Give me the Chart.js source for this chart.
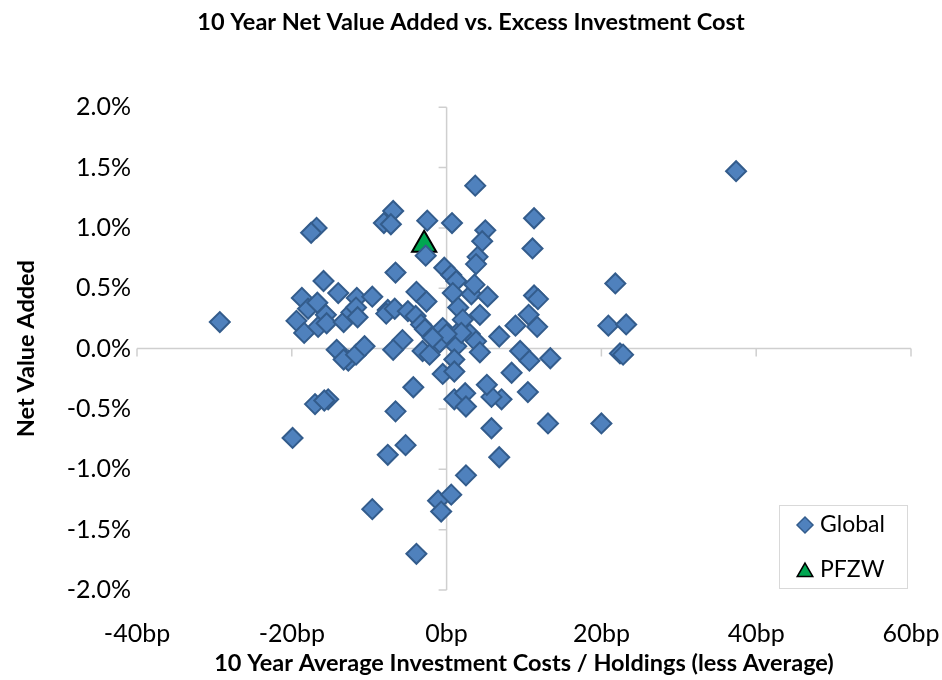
<!DOCTYPE html>
<html>
<head>
<meta charset="utf-8">
<script src="https://cdn.jsdelivr.net/npm/chart.js@4.4.1/dist/chart.umd.min.js"></script>
<style>
	body { margin: 0; background: #fff; }
	#chart { display: block; }
</style>
</head>
<body>
<canvas id="chart" width="942" height="680"></canvas>
<script>
// excess investment cost (bp) and net value added (%) per fund
var global_cost = [37.4, -29.3, -19.9, 21.8, 20.9, 23.2, 22.4, 22.8, 20.0, 13.1,
	13.4, 11.3, 11.1, 11.3, 11.8, 10.6, 8.9, 11.7, 6.8, 9.5,
	10.7, 8.4, 10.5, 7.1, 6.8, 5.8, 5.8, 5.2, 3.7, 5.0,
	4.6, 4.0, 3.8, 0.7, -2.5, -2.7, -6.9, -8.1, -7.2, -16.8,
	-17.5, -0.3, 0.6, 1.25, -6.6, -15.9, -14.0, -11.6, -9.6, -18.7,
	-17.9, -16.7, -19.4, -18.4, -16.6, -15.6, -15.5, -13.3, -12.3, -11.7,
	-11.5, -7.6, -7.8, -6.7, -3.9, -2.6, -5.0, -4.0, -3.3, -2.8,
	-1.8, -0.5, 0.4, 1.9, 3.0, 3.8, 4.3, 1.25, -3.1, -2.2,
	-0.9, -5.7, 0.8, 3.2, 3.6, 5.3, 1.5, 4.3, 2.1, -14.2,
	-12.7, -13.3, -11.7, -10.6, -6.9, 1.0, -0.5, 1.0, -4.3, 1.0,
	2.4, 2.5, -17.0, -15.3, -15.8, -6.6, -5.3, -7.6, -9.6, -1.1,
	-0.7, 0.6, -3.9, 2.5, 1.9, 0.0, -1.8];
var global_value = [1.47, 0.22, -0.74, 0.54, 0.19, 0.20, -0.04, -0.05, -0.62, -0.62,
	-0.08, 1.08, 0.83, 0.44, 0.41, 0.28, 0.19, 0.18, 0.10, -0.02,
	-0.10, -0.20, -0.36, -0.42, -0.90, -0.66, -0.40, -0.30, 1.35, 0.98,
	0.89, 0.76, 0.70, 1.04, 1.06, 0.77, 1.14, 1.04, 1.03, 1.00,
	0.96, 0.67, 0.61, 0.56, 0.63, 0.56, 0.46, 0.42, 0.43, 0.42,
	0.33, 0.38, 0.23, 0.13, 0.18, 0.28, 0.21, 0.22, 0.30, 0.34,
	0.26, 0.32, 0.29, 0.33, 0.47, 0.39, 0.31, 0.27, 0.20, 0.16,
	0.10, 0.17, 0.10, 0.16, 0.12, 0.06, -0.03, 0.02, -0.02, -0.05,
	0.05, 0.07, 0.46, 0.45, 0.53, 0.43, 0.34, 0.28, 0.24, -0.01,
	-0.10, -0.09, -0.05, 0.02, -0.01, -0.09, -0.21, -0.19, -0.32, -0.42,
	-0.37, -0.48, -0.46, -0.42, -0.43, -0.52, -0.80, -0.88, -1.33, -1.26,
	-1.35, -1.21, -1.70, -1.05, 0.13, 0.12, 0.09];
var pfzw_cost = [-2.9];
var pfzw_value = [0.86];

var x_ticks = [-40, -20, 0, 20, 40, 60];
var y_ticks = [-2.0, -1.5, -1.0, -0.5, 0.0, 0.5, 1.0, 1.5, 2.0];

var font_name = "Lato, 'Open Sans', sans-serif";

function to_points(xs, ys) {
	var pts = [];
	for (var i = 0; i < xs.length; i++) {
		pts.push({x: xs[i], y: ys[i]});
	}
	return pts;
}

// axes cross at the origin like in Excel
var zero_axes = {
	id: 'zeroAxes',
	beforeDatasetsDraw: function(chart) {
		var ctx = chart.ctx;
		var a = chart.chartArea;
		var sx = chart.scales.x, sy = chart.scales.y;
		var x0 = sx.getPixelForValue(0), y0 = sy.getPixelForValue(0);
		ctx.save();
		ctx.strokeStyle = '#cfcfcf';
		ctx.lineWidth = 1.5;
		ctx.beginPath();
		ctx.moveTo(a.left, y0); ctx.lineTo(a.right, y0);
		ctx.moveTo(x0, a.top); ctx.lineTo(x0, a.bottom);
		x_ticks.forEach(function(v) {
			var px = sx.getPixelForValue(v);
			ctx.moveTo(px, y0); ctx.lineTo(px, y0 + 8);
		});
		y_ticks.forEach(function(v) {
			var py = sy.getPixelForValue(v);
			ctx.moveTo(x0 - 8, py); ctx.lineTo(x0, py);
		});
		ctx.stroke();
		ctx.restore();
	}
};

var box_legend = {
	id: 'boxLegend',
	afterDraw: function(chart) {
		var ctx = chart.ctx;
		var sets = chart.data.datasets;
		ctx.save();
		ctx.strokeStyle = '#d9d9d9';
		ctx.lineWidth = 1;
		ctx.strokeRect(779.5, 505.5, 128, 83);
		ctx.font = "23px " + font_name;
		ctx.textBaseline = 'middle';
		ctx.fillStyle = '#000';
		var rows = [525, 570];
		for (var i = 0; i < sets.length; i++) {
			var ds = sets[i];
			ctx.fillStyle = ds.backgroundColor;
			ctx.strokeStyle = ds.borderColor;
			ctx.lineWidth = 1.5;
			Chart.helpers.drawPoint(ctx, {pointStyle: ds.pointStyle, radius: ds.pointStyle == 'triangle' ? 9 : 8, borderWidth: 1.5}, 805, rows[i] + (ds.pointStyle == 'triangle' ? 2 : 0));
			ctx.fillStyle = '#000';
			ctx.fillText(ds.label, 820, rows[i]);
		}
		ctx.restore();
	}
};

var chart_ctx = document.getElementById("chart");
var value_chart = new Chart(chart_ctx, {
	type: 'scatter',
	data: {
		datasets: [{
			label: 'Global',
			data: to_points(global_cost, global_value),
			pointStyle: 'rectRot',
			pointRadius: 10,
			backgroundColor: '#4f81bd',
			borderColor: '#335c8c',
			borderWidth: 2
		}, {
			label: 'PFZW',
			data: to_points(pfzw_cost, pfzw_value),
			pointStyle: 'triangle',
			pointRadius: 14,
			backgroundColor: '#00a651',
			borderColor: '#000000',
			borderWidth: 2
		}]
	},
	options: {
		responsive: false,
		animation: false,
		layout: {
			padding: {left: 0, right: 0, top: 0, bottom: 0}
		},
		plugins: {
			legend: {display: false},
			tooltip: {enabled: false},
			title: {
				display: true,
				text: '10 Year Net Value Added vs. Excess Investment Cost',
				color: '#000',
				font: {family: font_name, size: 23.5, weight: 'bold'},
				padding: {top: 8, bottom: 71}
			}
		},
		scales: {
			x: {
				type: 'linear',
				min: -40,
				max: 60,
				afterFit: function(scale) {
					scale.height = 90;
					scale.paddingRight = 31;
				},
				afterBuildTicks: function(scale) {
					scale.ticks = x_ticks.map(function(v) { return {value: v}; });
				},
				grid: {display: false},
				border: {display: false},
				ticks: {
					color: '#000',
					font: {family: font_name, size: 25},
					padding: 21,
					maxRotation: 0,
					callback: function(v) { return v + 'bp'; }
				},
				title: {
					display: true,
					text: '10 Year Average Investment Costs / Holdings (less Average)',
					color: '#000',
					font: {family: font_name, size: 23.5, weight: 'bold'},
					padding: {top: 0, bottom: 2}
				}
			},
			y: {
				type: 'linear',
				min: -2,
				max: 2,
				afterFit: function(scale) { scale.width = 137; },
				afterBuildTicks: function(scale) {
					scale.ticks = y_ticks.map(function(v) { return {value: v}; });
				},
				grid: {display: false},
				border: {display: false},
				ticks: {
					color: '#000',
					font: {family: font_name, size: 25},
					padding: -2,
					callback: function(v) { return v.toFixed(1) + '%'; }
				},
				title: {
					display: true,
					text: 'Net Value Added',
					color: '#000',
					font: {family: font_name, size: 23.5, weight: 'bold'},
					padding: {top: 12, bottom: 0}
				}
			}
		}
	},
	plugins: [zero_axes, box_legend]
});
</script>
</body>
</html>
